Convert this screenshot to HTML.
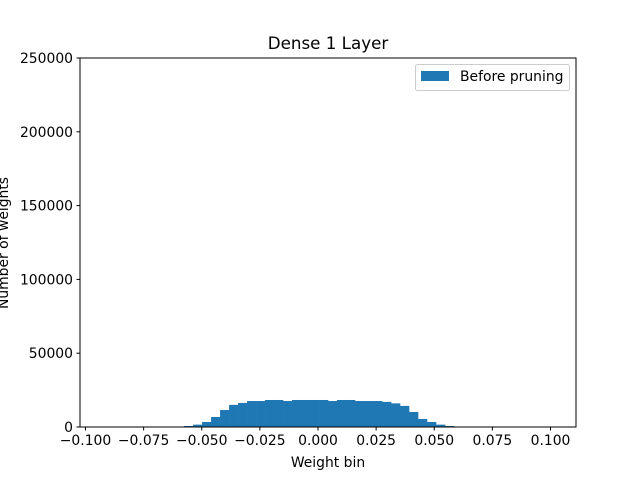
<!DOCTYPE html>
<html><head><meta charset="utf-8"><style>
body{margin:0;background:#fff;font-family:"Liberation Sans","DejaVu Sans",sans-serif}
svg text{font-family:"DejaVu Sans","Liberation Sans",sans-serif;font-size:13.9px;fill:#000}
</style></head><body>
<svg width="640" height="480">
<rect width="640" height="480" fill="#fff"/>
<g id="bars"></g>
<g id="axes"></g>
<text x="328" y="49" text-anchor="middle" style="font-size:16.7px">Dense 1 Layer</text>
<text x="328" y="467" text-anchor="middle">Weight bin</text>
<text transform="translate(8,243) rotate(-90)" text-anchor="middle">Number of weights</text>
<g>
<rect x="415.5" y="64.5" width="154" height="26" rx="2" fill="#fff" stroke="#ccc"/>
<rect x="421" y="71" width="28" height="10" fill="#1f77b4"/>
<text x="460" y="81">Before pruning</text>
</g>
</svg>
<script>
const binStart = -0.0576;
const binWidth = 0.00387;
const counts = [700,1600,3400,6800,11500,15000,16300,17600,17600,18300,18300,17600,18300,18300,18300,18300,17600,18300,18300,17600,17600,17600,17000,16000,14300,10200,5400,3400,1600,700];
const xTicks = [-0.1,-0.075,-0.05,-0.025,0,0.025,0.05,0.075,0.1];
const xTickLabels = ["\u22120.100","\u22120.075","\u22120.050","\u22120.025","0.000","0.025","0.050","0.075","0.100"];
const yTicks = [0,50000,100000,150000,200000,250000];
const L=80,R=576,T=58,B=427;
const xs=v=>85.5+(v+0.1)*2325;
const ys=v=>B-(v/250000)*(B-T);
const NS="http://www.w3.org/2000/svg";
const bars=document.getElementById('bars'),axes=document.getElementById('axes');
function mk(t,a,p){const e=document.createElementNS(NS,t);for(const k in a)e.setAttribute(k,a[k]);p.appendChild(e);return e;}
counts.forEach((c,i)=>{
 const x0=xs(binStart+i*binWidth),x1=xs(binStart+(i+1)*binWidth);
 const r=mk('rect',{x:x0,y:ys(c),width:x1-x0+0.3,height:B-ys(c),fill:'#1f77b4'},bars);
 
 
});
mk('rect',{x:L,y:T,width:R-L,height:B-T,fill:'none',stroke:'#000','stroke-width':1},axes);
xTicks.forEach((v,i)=>{
 const x=xs(v);
 mk('line',{x1:x,x2:x,y1:B,y2:B+3.5,stroke:'#000'},axes);
 const t=mk('text',{x:x,y:B+18,'text-anchor':'middle'},axes);t.textContent=xTickLabels[i];
 
 
});
yTicks.forEach(v=>{
 const y=ys(v);
 mk('line',{x1:L-3.5,x2:L,y1:y,y2:y,stroke:'#000'},axes);
 const t=mk('text',{x:L-7,y:y+5,'text-anchor':'end'},axes);t.textContent=String(v);
 
 
});
</script>
</body></html>
